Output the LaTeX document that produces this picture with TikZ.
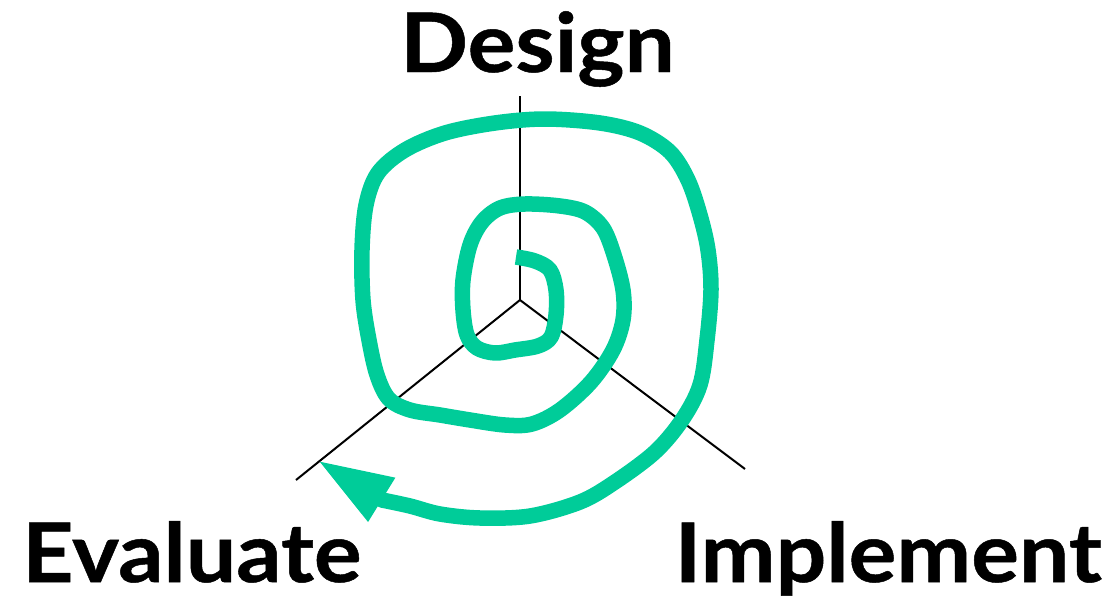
\documentclass[tikz,border=0pt]{standalone}
\usepackage{fontspec}
\setmainfont{Lato}[BoldFeatures={FakeStretch=1.09, FakeBold=0.6}]
\usepackage{tikz}
\usetikzlibrary{arrows.meta}
\usetikzlibrary{calc}
\definecolor{spiralgreen}{RGB}{0,204,153}
\begin{document}
\begin{tikzpicture}[x=1pt, y=-1pt, >=stealth,
  phase/.style={font=\fontsize{82}{90}\selectfont\bfseries, inner sep=0pt},
  axis/.style={line width=2pt, black},
  spiral/.style={line width=15.5pt, spiralgreen, line join=round},]
\useasboundingbox (0,0) rectangle (1112,600);
\coordinate (c) at (520, 300);
\coordinate (t) at (520, 96);
\coordinate (l) at (296, 480);
\coordinate (r) at (745, 469);
\coordinate (tip) at (317, 460);
\node[phase, anchor=base] (design) at (537.5, 72)  {Design};
\node[phase, anchor=base west] (evaluate) at (22, 582)  {Evaluate};
\node[phase, anchor=base east] (implement) at (1102, 582)  {Implement};
 \draw [axis] (c)--(t);
 \draw [axis] (c)--(l);
 \draw [axis] (c)--(r);
  \draw [spiral, -{Triangle[length=76pt, width=47pt]}] plot[smooth, tension=0.55] coordinates {
   (516,257) (535,261) (550,270) (556,290) (556,315) (551,337) (538,346)
   (515,350) (495,353) (477,348) (467,335) (463,310) (463,280) (470,245)
   (482,222) (500,208) (525,204) (560,206) (585,212) (603,228) (614,255)
   (623,290) (623,320) (613,350) (591,382) (560,410) (532,424) (505,425)
   (470,420) (440,415) (410,410) (389,399) (377,375) (369,340) (363,300)
   (362,250) (366,205) (378,173) (405,150) (445,133) (495,123) (545,119)
   (600,123) (640,133) (670,152) (688,180) (700,215) (708,250) (711,290)
   (707,340) (700,385) (682,420) (655,452) (615,482) (580,502) (530,516)
   (480,518) (440,514) (410,506) (382,500)} -- (tip);
\end{tikzpicture}
\end{document}
